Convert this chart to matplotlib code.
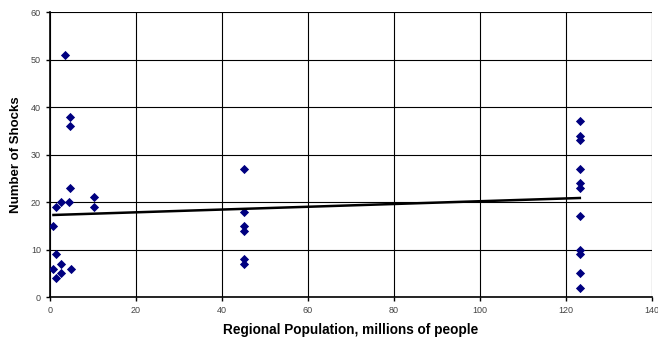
import numpy as np
import matplotlib.pyplot as plt

plt.rcParams['font.family'] = ['Liberation Sans', 'DejaVu Sans']

# 地区人口（百万）与冲击次数
population = [3.5, 4.6, 4.6, 4.6, 4.4, 2.5, 1.3, 10.3, 10.3, 0.8, 1.3, 2.5, 0.8, 4.9, 1.3, 2.5,
              45.2, 45.2, 45.2, 45.2, 45.2, 45.2,
              123.2, 123.2, 123.2, 123.2, 123.2, 123.2, 123.2, 123.2, 123.2, 123.2, 123.2]
shocks = [51, 38, 36, 23, 20, 20, 19, 21, 19, 15, 9, 7, 6, 6, 4, 5,
          27, 18, 15, 14, 8, 7,
          37, 34, 33, 27, 24, 23, 17, 10, 9, 5, 2]

# 趋势线参数
trend_intercept = 17.25
trend_slope = 0.0292

x_ticks = [0, 20, 40, 60, 80, 100, 120, 140]
y_ticks = [0, 10, 20, 30, 40, 50, 60]

fig = plt.figure(figsize=(6.58, 3.43), dpi=100)
ax = fig.add_axes([0.076, 0.134, 0.915, 0.831])

ax.scatter(population, shocks, marker='D', s=22, color='#000080', zorder=3, linewidths=0)

# 线性趋势线
xs = np.array([min(population), max(population)])
ax.plot(xs, trend_intercept + trend_slope * xs, color='black', lw=1.8, zorder=4)

ax.set_xlim(0, 140)
ax.set_ylim(0, 60)
ax.set_xticks(x_ticks)
ax.set_yticks(y_ticks)
ax.grid(True, color='black', lw=0.8)
ax.set_axisbelow(True)
for side in ['top', 'right']:
    ax.spines[side].set_visible(False)
for side in ['left', 'bottom']:
    ax.spines[side].set_linewidth(1.2)
ax.tick_params(axis='both', labelsize=6.5, labelcolor='#444444', length=3, width=1)

ax.set_xlabel('Regional Population, millions of people', fontsize=9.8, fontweight='bold', labelpad=6)
ax.set_ylabel('Number of Shocks', fontsize=9.5, fontweight='bold')
ax.yaxis.set_label_coords(-0.047, 0.5)

fig.savefig('out.png', dpi=100)
